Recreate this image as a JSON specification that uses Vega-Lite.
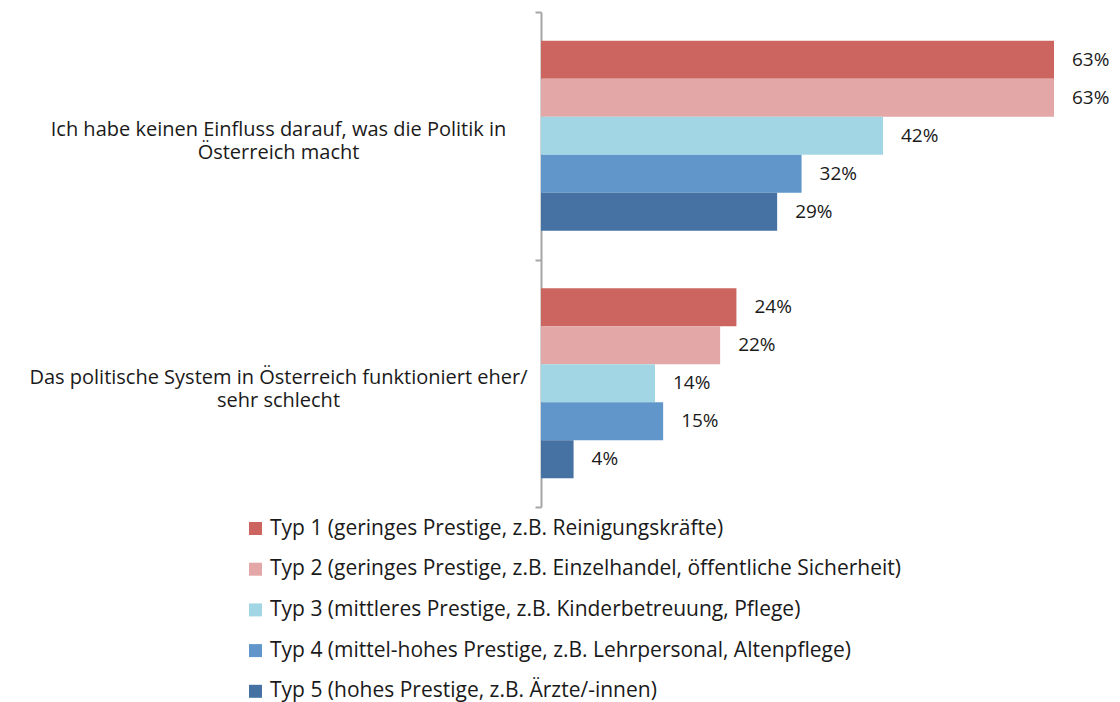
{
  "$schema": "https://vega.github.io/schema/vega-lite/v6.json",
  "autosize": {"type": "none"},
  "width": 570,
  "height": 495,
  "padding": {"left": 541, "top": 12, "right": 9, "bottom": 195},
  "background": "white",
  "config": {"view": {"stroke": null}, "font": "Open Sans"},
  "data": {
    "values": [
      {"frage": "Ich habe keinen Einfluss darauf, was die Politik in|Österreich macht", "typ": "Typ 1 (geringes Prestige, z.B. Reinigungskräfte)", "wert": 63, "label": "63%"},
      {"frage": "Ich habe keinen Einfluss darauf, was die Politik in|Österreich macht", "typ": "Typ 2 (geringes Prestige, z.B. Einzelhandel, öffentliche Sicherheit)", "wert": 63, "label": "63%"},
      {"frage": "Ich habe keinen Einfluss darauf, was die Politik in|Österreich macht", "typ": "Typ 3 (mittleres Prestige, z.B. Kinderbetreuung, Pflege)", "wert": 42, "label": "42%"},
      {"frage": "Ich habe keinen Einfluss darauf, was die Politik in|Österreich macht", "typ": "Typ 4 (mittel-hohes Prestige, z.B. Lehrpersonal, Altenpflege)", "wert": 32, "label": "32%"},
      {"frage": "Ich habe keinen Einfluss darauf, was die Politik in|Österreich macht", "typ": "Typ 5 (hohes Prestige, z.B. Ärzte/-innen)", "wert": 29, "label": "29%"},
      {"frage": "Das politische System in Österreich funktioniert eher/|sehr schlecht", "typ": "Typ 1 (geringes Prestige, z.B. Reinigungskräfte)", "wert": 24, "label": "24%"},
      {"frage": "Das politische System in Österreich funktioniert eher/|sehr schlecht", "typ": "Typ 2 (geringes Prestige, z.B. Einzelhandel, öffentliche Sicherheit)", "wert": 22, "label": "22%"},
      {"frage": "Das politische System in Österreich funktioniert eher/|sehr schlecht", "typ": "Typ 3 (mittleres Prestige, z.B. Kinderbetreuung, Pflege)", "wert": 14, "label": "14%"},
      {"frage": "Das politische System in Österreich funktioniert eher/|sehr schlecht", "typ": "Typ 4 (mittel-hohes Prestige, z.B. Lehrpersonal, Altenpflege)", "wert": 15, "label": "15%"},
      {"frage": "Das politische System in Österreich funktioniert eher/|sehr schlecht", "typ": "Typ 5 (hohes Prestige, z.B. Ärzte/-innen)", "wert": 4, "label": "4%"}
    ]
  },
  "encoding": {
    "y": {
      "field": "frage", "type": "nominal", "sort": null,
      "scale": {"paddingInner": 0, "paddingOuter": 0},
      "axis": {
        "title": null, "tickBand": "extent",
        "domainColor": "#a6a6a6", "domainWidth": 2,
        "tickColor": "#a6a6a6", "tickWidth": 2, "tickSize": 6,
        "labelFontSize": 20, "labelLimit": 0,
        "labelAlign": "center", "labelPadding": 257,
        "labelColor": "#1a1a1a", "labelLineHeight": 23, "labelOffset": -6,
        "labelExpr": "split(datum.label, '|')"
      }
    },
    "yOffset": {
      "field": "typ", "type": "nominal", "sort": null,
      "scale": {"paddingInner": 0, "paddingOuter": 0.76}
    },
    "x": {"field": "wert", "type": "quantitative", "scale": {"domain": [0, 70]}, "axis": null}
  },
  "layer": [
    {
      "mark": {"type": "bar"},
      "encoding": {
        "color": {
          "field": "typ", "type": "nominal", "sort": null,
          "scale": {
            "domain": [
              "Typ 1 (geringes Prestige, z.B. Reinigungskräfte)",
              "Typ 2 (geringes Prestige, z.B. Einzelhandel, öffentliche Sicherheit)",
              "Typ 3 (mittleres Prestige, z.B. Kinderbetreuung, Pflege)",
              "Typ 4 (mittel-hohes Prestige, z.B. Lehrpersonal, Altenpflege)",
              "Typ 5 (hohes Prestige, z.B. Ärzte/-innen)"
            ],
            "range": ["#cc6560", "#e2a7a6", "#a3d6e4", "#6096c9", "#4572a3"]
          },
          "legend": {
            "title": null, "orient": "none", "legendX": -296, "legendY": 506,
            "symbolType": "square", "symbolSize": 169, "symbolStrokeWidth": 0,
            "labelFontSize": 21, "labelColor": "#1a1a1a", "labelLimit": 0,
            "labelOffset": 4, "rowPadding": 18.7, "padding": 0
          }
        }
      }
    },
    {
      "mark": {"type": "text", "align": "left", "baseline": "middle", "dx": 18, "fontSize": 19, "color": "#1a1a1a"},
      "encoding": {"text": {"field": "label"}}
    }
  ]
}
